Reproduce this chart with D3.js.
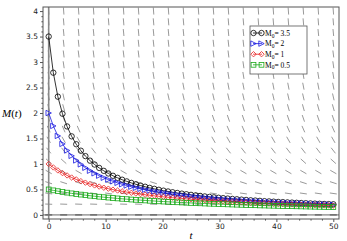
<!DOCTYPE html>
<html lang="en">

<head>
  <meta charset="UTF-8" />
  <title>M(t) decay</title>
  <script src="https://d3js.org/d3.v7.min.js"></script>
  <style>
    * {
      margin: 0;
      padding: 0;
    }

    body {
      background: white;
    }

    .tick text {
      font-family: "DejaVu Sans", sans-serif;
      font-size: 7.5px;
      fill: #222;
    }

    .tick line {
      stroke: #555;
    }
  </style>
</head>

<body>
  <script>
    // sample times of the solution curves
    const times = [0, 0.81, 1.61, 2.42, 3.23, 4.03, 4.84, 5.65, 6.45, 7.26, 8.06, 8.87, 9.68, 10.48, 11.29, 12.1,
      12.9, 13.71, 14.52, 15.32, 16.13, 16.94, 17.74, 18.55, 19.35, 20.16, 20.97, 21.77, 22.58, 23.39, 24.19, 25,
      25.81, 26.61, 27.42, 28.23, 29.03, 29.84, 30.65, 31.45, 32.26, 33.06, 33.87, 34.68, 35.48, 36.29, 37.1, 37.9,
      38.71, 39.52, 40.32, 41.13, 41.94, 42.74, 43.55, 44.35, 45.16, 45.97, 46.77, 47.58, 48.39, 49.19, 50];

    const m35 = [3.5, 2.791, 2.321, 1.986, 1.736, 1.542, 1.387, 1.26, 1.154, 1.065, 0.989, 0.922, 0.865, 0.813, 0.768,
      0.728, 0.691, 0.658, 0.628, 0.601, 0.576, 0.553, 0.531, 0.512, 0.493, 0.476, 0.46, 0.445, 0.431, 0.418, 0.406,
      0.394, 0.383, 0.373, 0.363, 0.354, 0.345, 0.337, 0.329, 0.321, 0.314, 0.307, 0.3, 0.294, 0.287, 0.282, 0.276,
      0.27, 0.265, 0.26, 0.255, 0.251, 0.246, 0.242, 0.238, 0.234, 0.23, 0.226, 0.222, 0.219, 0.215, 0.212, 0.209];

    const m2 = [2, 1.746, 1.55, 1.393, 1.265, 1.159, 1.069, 0.992, 0.925, 0.867, 0.816, 0.77, 0.729, 0.693, 0.66,
      0.629, 0.602, 0.577, 0.554, 0.532, 0.512, 0.494, 0.477, 0.461, 0.446, 0.432, 0.419, 0.407, 0.395, 0.384, 0.373,
      0.364, 0.354, 0.345, 0.337, 0.329, 0.321, 0.314, 0.307, 0.3, 0.294, 0.288, 0.282, 0.276, 0.271, 0.266, 0.261,
      0.256, 0.251, 0.247, 0.242, 0.238, 0.234, 0.23, 0.226, 0.223, 0.219, 0.216, 0.212, 0.209, 0.206, 0.203, 0.2];

    const m1 = [1, 0.932, 0.873, 0.821, 0.775, 0.734, 0.697, 0.663, 0.633, 0.605, 0.579, 0.556, 0.534, 0.515, 0.496,
      0.479, 0.463, 0.448, 0.434, 0.42, 0.408, 0.396, 0.385, 0.375, 0.365, 0.355, 0.346, 0.338, 0.33, 0.322, 0.315,
      0.308, 0.301, 0.295, 0.288, 0.282, 0.277, 0.271, 0.266, 0.261, 0.256, 0.252, 0.247, 0.243, 0.238, 0.234, 0.23,
      0.227, 0.223, 0.219, 0.216, 0.213, 0.209, 0.206, 0.203, 0.2, 0.197, 0.195, 0.192, 0.189, 0.187, 0.184, 0.182];

    const m05 = [0.5, 0.482, 0.466, 0.451, 0.437, 0.423, 0.411, 0.399, 0.388, 0.377, 0.367, 0.357, 0.348, 0.34, 0.332,
      0.324, 0.316, 0.309, 0.302, 0.296, 0.29, 0.284, 0.278, 0.273, 0.267, 0.262, 0.257, 0.253, 0.248, 0.244, 0.239,
      0.235, 0.231, 0.228, 0.224, 0.22, 0.217, 0.213, 0.21, 0.207, 0.204, 0.201, 0.198, 0.195, 0.193, 0.19, 0.187,
      0.185, 0.182, 0.18, 0.178, 0.175, 0.173, 0.171, 0.169, 0.167, 0.165, 0.163, 0.161, 0.159, 0.157, 0.156, 0.154];

    const seriesLabels = ['3.5', '2', '1', '0.5'];

    // direction field grid (the field only depends on M)
    const fieldT = [0, 2.63, 5.26, 7.89, 10.53, 13.16, 15.79, 18.42, 21.05, 23.68, 26.32, 28.95, 31.58, 34.21, 36.84,
      39.47, 42.11, 44.74, 47.37, 50];
    const fieldM = [0, 0.211, 0.421, 0.632, 0.842, 1.053, 1.263, 1.474, 1.684, 1.895, 2.105, 2.316, 2.526, 2.737,
      2.947, 3.158, 3.368, 3.579, 3.789, 4];
    const fieldSlope = [0, -0.004, -0.016, -0.036, -0.064, -0.1, -0.144, -0.196, -0.255, -0.323, -0.399, -0.483,
      -0.574, -0.674, -0.782, -0.898, -1.021, -1.153, -1.292, -1.44];

    const xTicks = [0, 10, 20, 30, 40, 50];
    const xMinor = [2, 4, 6, 8, 12, 14, 16, 18, 22, 24, 26, 28, 32, 34, 36, 38, 42, 44, 46, 48];
    const yTicks = [0, 0.5, 1, 1.5, 2, 2.5, 3, 3.5, 4];
    const yMinor = [0.1, 0.2, 0.3, 0.4, 0.6, 0.7, 0.8, 0.9, 1.1, 1.2, 1.3, 1.4, 1.6, 1.7, 1.8, 1.9, 2.1, 2.2, 2.3, 2.4,
      2.6, 2.7, 2.8, 2.9, 3.1, 3.2, 3.3, 3.4, 3.6, 3.7, 3.8, 3.9];

    //constants
    const [w, h] = [347, 241];
    const [pLeft, pRight, pTop, pBottom] = [43, 339, 7, 219];

    const svg = d3.select('body').append('svg')
      .attr('width', w)
      .attr('height', h)
      .style('display', 'block');

    const x = d3.scaleLinear().domain([-1, 51]).range([pLeft, pRight]);
    const y = d3.scaleLinear().domain([-0.08, 4.08]).range([pBottom, pTop]);

    svg.append('clipPath').attr('id', 'clip')
      .append('rect')
      .attr('x', pLeft).attr('y', pTop)
      .attr('width', pRight - pLeft).attr('height', pBottom - pTop);

    const plot = svg.append('g').attr('clip-path', 'url(#clip)');

    //direction field
    const dashLen = 7;
    const field = [];
    fieldM.forEach((m, j) => {
      fieldT.forEach(t => field.push({ t: t, m: m, s: fieldSlope[j] }));
    });

    plot.append('g')
      .selectAll('line')
      .data(field)
      .join('line')
      .each(function (d) {
        const cx = x(d.t), cy = y(d.m);
        const dx = x(d.t + 1) - x(d.t);
        const dy = y(d.m + d.s) - y(d.m);
        const len = Math.hypot(dx, dy);
        const ux = dx / len * dashLen / 2, uy = dy / len * dashLen / 2;
        d3.select(this)
          .attr('x1', cx - ux).attr('y1', cy - uy)
          .attr('x2', cx + ux).attr('y2', cy + uy);
      })
      .attr('stroke', d => d.m === 0 ? '#333' : '#999')
      .attr('stroke-width', 1);

    //axes through origin
    plot.append('line')
      .attr('x1', x(0)).attr('x2', x(0))
      .attr('y1', pTop).attr('y2', pBottom)
      .attr('stroke', '#888')
      .attr('stroke-width', 1.6);

    plot.append('line')
      .attr('x1', pLeft).attr('x2', pRight)
      .attr('y1', y(0)).attr('y2', y(0))
      .attr('stroke', '#666')
      .attr('stroke-width', 1);

    //series
    const series = [
      { label: seriesLabels[0], values: m35, color: '#000', shape: 'circle' },
      { label: seriesLabels[1], values: m2, color: '#1818e0', shape: 'triangle' },
      { label: seriesLabels[2], values: m1, color: '#e82020', shape: 'diamond' },
      { label: seriesLabels[3], values: m05, color: '#18a818', shape: 'square' }
    ];

    const marker = (g, shape, color) => {
      const r = 2.7;
      if (shape === 'circle') {
        g.append('circle').attr('r', r);
      } else if (shape === 'triangle') {
        g.append('path').attr('d', `M${-r},${-r}L${r},0L${-r},${r}Z`);
      } else if (shape === 'diamond') {
        g.append('path').attr('d', `M0,${-r}L${r},0L0,${r}L${-r},0Z`);
      } else {
        g.append('rect').attr('x', -r + 0.3).attr('y', -r + 0.3).attr('width', 2 * r - 0.6).attr('height', 2 * r - 0.6);
      }
      g.selectAll('*').attr('fill', 'none').attr('stroke', color).attr('stroke-width', 0.8);
    };

    const line = d3.line()
      .x((d, i) => x(times[i]))
      .y(d => y(d));

    series.forEach(s => {
      const g = plot.append('g');
      g.append('path')
        .attr('d', line(s.values))
        .attr('fill', 'none')
        .attr('stroke', s.color)
        .attr('stroke-width', 0.8);
      g.selectAll('g')
        .data(s.values)
        .join('g')
        .attr('transform', (d, i) => `translate(${x(times[i])},${y(d)})`)
        .each(function () { marker(d3.select(this), s.shape, s.color); });
    });

    //frame
    svg.append('rect')
      .attr('x', pLeft).attr('y', pTop)
      .attr('width', pRight - pLeft).attr('height', pBottom - pTop)
      .attr('fill', 'none')
      .attr('stroke', '#555')
      .attr('stroke-width', 1);

    //ticks
    const xAxis = svg.append('g')
      .attr('transform', `translate(0,${pBottom})`)
      .call(d3.axisBottom(x).tickValues(xTicks).tickSize(3).tickSizeOuter(0).tickPadding(1.5));
    xAxis.select('.domain').remove();

    const xMinorAxis = svg.append('g')
      .attr('transform', `translate(0,${pBottom})`)
      .call(d3.axisBottom(x).tickValues(xMinor).tickSize(1.6).tickFormat(''));
    xMinorAxis.select('.domain').remove();

    const yAxis = svg.append('g')
      .attr('transform', `translate(${pLeft},0)`)
      .call(d3.axisLeft(y).tickValues(yTicks).tickSize(3).tickSizeOuter(0).tickPadding(2).tickFormat(d3.format('~g')));
    yAxis.select('.domain').remove();

    const yMinorAxis = svg.append('g')
      .attr('transform', `translate(${pLeft},0)`)
      .call(d3.axisLeft(y).tickValues(yMinor).tickSize(1.6).tickFormat(''));
    yMinorAxis.select('.domain').remove();

    //axis titles
    const yTitle = svg.append('text')
      .attr('x', 2)
      .attr('y', 117)
      .style('font-family', '"Liberation Serif", serif')
      .style('font-size', '11px');
    yTitle.append('tspan').style('font-style', 'italic').text('M');
    yTitle.append('tspan').text('(');
    yTitle.append('tspan').style('font-style', 'italic').text('t');
    yTitle.append('tspan').text(')');

    svg.append('text')
      .attr('x', x(25))
      .attr('y', 239)
      .attr('text-anchor', 'middle')
      .style('font-family', '"Liberation Serif", serif')
      .style('font-style', 'italic')
      .style('font-size', '11px')
      .text('t');

    //legend
    const legend = svg.append('g').attr('transform', 'translate(250,26)');
    legend.append('rect')
      .attr('width', 57).attr('height', 48)
      .attr('fill', 'white')
      .attr('stroke', '#555')
      .attr('stroke-width', 0.8);

    series.forEach((s, i) => {
      const row = legend.append('g').attr('transform', `translate(0,${7 + i * 10.6})`);
      row.append('line')
        .attr('x1', 3).attr('x2', 12)
        .attr('stroke', s.color).attr('stroke-width', 0.8);
      marker(row.append('g').attr('transform', 'translate(3.5,0)'), s.shape, s.color);
      marker(row.append('g').attr('transform', 'translate(11.5,0)'), s.shape, s.color);
      const txt = row.append('text')
        .attr('x', 15)
        .attr('y', 2.7)
        .style('font-family', '"Liberation Serif", serif')
        .style('font-size', '7.5px');
      txt.append('tspan').text('M');
      txt.append('tspan').attr('dy', 1.8).style('font-size', '5.5px').text('0');
      txt.append('tspan').attr('dy', -1.8).text('= ' + s.label);
    });
  </script>
</body>

</html>
